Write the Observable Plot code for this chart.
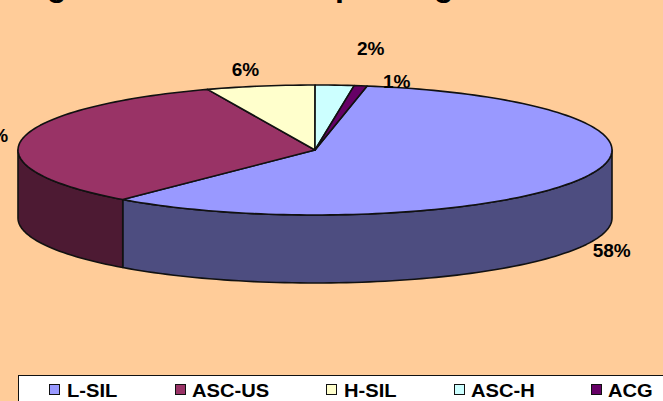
<!DOCTYPE html>
<html>
<head>
<meta charset="utf-8">
<script src="https://cdn.jsdelivr.net/npm/d3@7"></script>
<script src="https://cdn.jsdelivr.net/npm/@observablehq/plot@0.6"></script>
<style>
html,body{margin:0;padding:0;background:#FFCC99;overflow:hidden;}
#page{position:relative;width:663px;height:401px;overflow:hidden;background:#FFCC99;font-family:"Liberation Sans",Arial,sans-serif;font-weight:bold;color:#000;}
#chart svg{display:block;background:transparent;}
.cut{position:absolute;top:-31px;font-size:32px;line-height:32px;}
#legend{position:absolute;left:18px;top:375px;width:700px;height:40px;background:#fff;border:1.5px solid #111;box-sizing:border-box;}
.key{position:absolute;top:7px;font-size:19px;line-height:15px;white-space:nowrap;transform:scaleX(1.06);transform-origin:left;}
.sw{position:absolute;top:8px;width:11px;height:11px;border:1px solid #111;box-sizing:border-box;}
</style>
</head>
<body>
<div id="page">
  <div id="title"></div>
  <div id="chart"></div>
  <div id="legend"></div>
</div>
<script>
const categories = ["L-SIL", "ASC-US", "H-SIL", "ASC-H", "ACG"];
const values = [58.4, 32.9, 5.9, 2.1, 0.7];
const topColors = ["#9999FF", "#993366", "#FFFFCC", "#CCFFFF", "#660066"];
const sideColors = ["#4D4D80", "#4D1A33", "#808066", "#668080", "#330033"];
const firstSliceDeg = 10.1;
// label offsets from the slice's rim point, in pixels
const labelDx = [28, -33, -15, 36, 36];
const labelDy = [73, -3, -16, -36, -4];

// Pie geometry: unit circle squashed through the scales
const depth = 68 / 65;
const rad = d => d * Math.PI / 180;
const px = t => Math.sin(rad(t));
const py = t => Math.cos(rad(t));

let start = firstSliceDeg;
const slices = values.map((v, i) => {
  const a0 = start, a1 = start + v * 3.6;
  start = a1;
  return {name: categories[i], v, a0, a1, mid: (a0 + a1) / 2, top: topColors[i], side: sideColors[i], i};
});

function arc(a0, a1) {
  const n = Math.max(2, Math.ceil((a1 - a0) / 1.5));
  return d3.range(n + 1).map(k => a0 + (a1 - a0) * k / n);
}
function topPath(s) {
  const rim = arc(s.a0, s.a1).map(t => ({x: px(t), y: py(t)}));
  return [{x: 0, y: 0}, ...rim, {x: 0, y: 0}];
}
function wallPath(s) {
  const a0 = Math.max(s.a0, 90), a1 = Math.min(s.a1, 270);
  if (a1 <= a0) return null;
  const upper = arc(a0, a1).map(t => ({x: px(t), y: py(t)}));
  const lower = upper.slice().reverse().map(p => ({x: p.x, y: p.y - depth}));
  return [...upper, ...lower, upper[0]];
}

const lineOpts = (fill) => ({x: "x", y: "y", fill, stroke: "#111", strokeWidth: 1.6, curve: "linear", strokeLinejoin: "round"});

const marks = [];
slices.forEach(s => {
  const w = wallPath(s);
  if (w) marks.push(Plot.line(w, lineOpts(s.side)));
});
slices.forEach(s => marks.push(Plot.line(topPath(s), lineOpts(s.top))));
slices.forEach((s, i) => marks.push(Plot.text([s], {
  x: d => px(d.mid), y: d => py(d.mid), text: d => Math.round(d.v) + "%",
  dx: labelDx[i], dy: labelDy[i],
  fontSize: 19, fontWeight: "bold", fontFamily: "Liberation Sans, Arial, sans-serif", fill: "#000"
})));

const svgHeight = 375;
const chart = Plot.plot({
  width: 663, height: svgHeight,
  marginTop: 0, marginRight: 0, marginBottom: 0, marginLeft: 0,
  style: {background: "transparent", overflow: "visible"},
  x: {domain: [-314.5 / 297, 348.5 / 297], axis: null},
  y: {domain: [(149.5 - svgHeight) / 65, 149.5 / 65], axis: null},
  marks
});
document.getElementById("chart").appendChild(chart);

// Title: only the descenders survive the crop of the reference
const cutLetters = ["g", "p", "g"];
const cutLeft = [47, 335, 434];
const title = document.getElementById("title");
cutLetters.forEach((c, i) => {
  const e = document.createElement("span");
  e.className = "cut"; e.textContent = c; e.style.left = cutLeft[i] + "px";
  title.appendChild(e);
});

// Legend
const swLeft = [30, 156, 307, 435, 572];
const keyLeft = [48, 173, 325, 452, 589];
const legend = document.getElementById("legend");
slices.forEach((s, i) => {
  const sw = document.createElement("div");
  sw.className = "sw"; sw.style.left = swLeft[i] + "px"; sw.style.background = s.top;
  legend.appendChild(sw);
  const k = document.createElement("div");
  k.className = "key"; k.textContent = s.name; k.style.left = keyLeft[i] + "px";
  legend.appendChild(k);
});
</script>
</body>
</html>
